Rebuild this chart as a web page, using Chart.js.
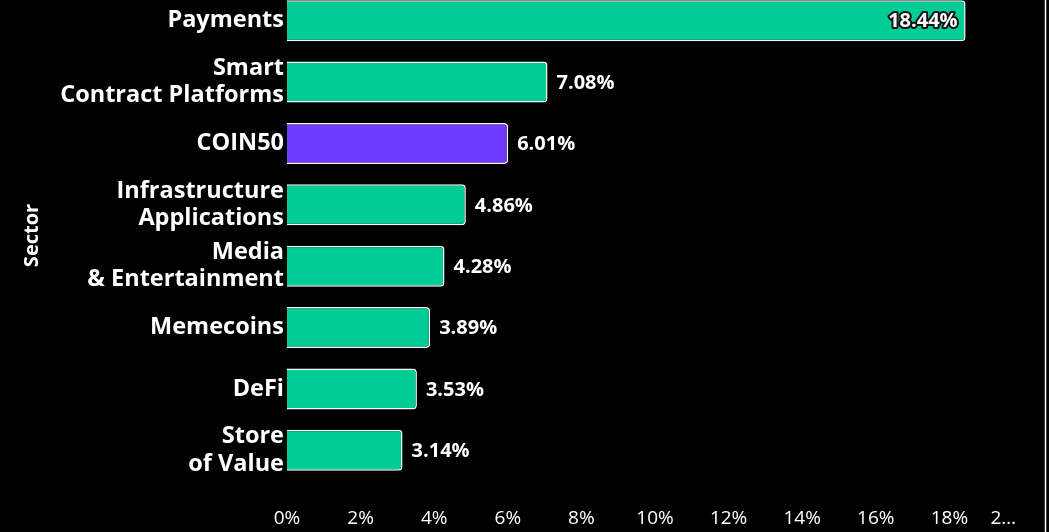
<!DOCTYPE html>
<html>
<head>
<meta charset="utf-8">
<script src="https://cdn.jsdelivr.net/npm/chart.js@4"></script>
<style>
  html, body { margin: 0; padding: 0; background: #000; overflow: hidden; }
  #wrap { position: absolute; left: 0; top: -10px; width: 1049px; height: 542px; }
</style>
</head>
<body>
<div id="wrap"><canvas id="grafico" width="1049" height="542"></canvas></div>
<script>
const sectores = [
  ["Payments"],
  ["Smart", "Contract Platforms"],
  ["COIN50"],
  ["Infrastructure", "Applications"],
  ["Media", "& Entertainment"],
  ["Memecoins"],
  ["DeFi"],
  ["Store", "of Value"]
];
const retornos = [18.44, 7.08, 6.01, 4.86, 4.28, 3.89, 3.53, 3.14];
const destacado = "COIN50";
const ejeMax = 20;
const ejePaso = 2;

const VERDE = "#00CC96";
const VIOLETA = "#6F3BFF";
const FUENTE = "'Open Sans', sans-serif";

const colores = sectores.map(s => s.join(" ") === destacado ? VIOLETA : VERDE);

// etiquetas de valor al final de cada barra
const etiquetas = {
  id: "etiquetas",
  afterDatasetsDraw(chart) {
    const ctx = chart.ctx;
    const meta = chart.getDatasetMeta(0);
    ctx.save();
    ctx.font = "bold 20px " + FUENTE;
    ctx.textBaseline = "middle";
    meta.data.forEach((bar, i) => {
      const txt = retornos[i].toFixed(2) + "%";
      const w = ctx.measureText(txt).width;
      if (bar.x + 9 + w > chart.chartArea.right) {
        ctx.textAlign = "right";
        ctx.lineJoin = "round";
        ctx.lineWidth = 4;
        ctx.strokeStyle = "#111";
        ctx.strokeText(txt, bar.x - 8, bar.y + 1);
        ctx.fillStyle = "#fff";
        ctx.fillText(txt, bar.x - 8, bar.y + 1);
      } else {
        ctx.textAlign = "left";
        ctx.fillStyle = "#fff";
        ctx.fillText(txt, bar.x + 9, bar.y + 1);
      }
    });
    ctx.restore();
  }
};

const borde = {
  id: "borde",
  afterDraw(chart) {
    const ctx = chart.ctx;
    ctx.save();
    ctx.strokeStyle = "#fff";
    ctx.lineWidth = 1.5;
    ctx.beginPath();
    ctx.moveTo(1045.5, 0);
    ctx.lineTo(1045.5, chart.height);
    ctx.stroke();
    ctx.restore();
  }
};

new Chart(document.getElementById("grafico"), {
  type: "bar",
  data: {
    labels: sectores,
    datasets: [{
      data: retornos,
      backgroundColor: colores,
      borderColor: "#fff",
      borderWidth: 1.5,
      borderSkipped: "start",
      borderRadius: 4,
      categoryPercentage: 1,
      barPercentage: 0.667
    }]
  },
  options: {
    indexAxis: "y",
    responsive: false,
    animation: false,
    layout: { padding: { left: 0, right: 26, top: 0, bottom: 0 } },
    plugins: {
      legend: { display: false },
      tooltip: { enabled: false }
    },
    scales: {
      x: {
        min: 0,
        max: ejeMax,
        grid: { display: false, drawTicks: false },
        border: { display: false },
        ticks: {
          stepSize: ejePaso,
          color: "#fff",
          padding: 26,
          maxRotation: 0,
          autoSkip: false,
          font: { family: FUENTE, size: 19 },
          callback: v => v === ejeMax ? "2…" + "        " : v + "%"
        },
        afterFit: s => { s.height = 51; s.paddingLeft = 0; s.paddingRight = 0; }
      },
      y: {
        grid: { display: false, drawTicks: false },
        border: { display: false },
        ticks: {
          color: "#fff",
          padding: 3,
          autoSkip: false,
          font: { family: FUENTE, size: 23.5, weight: "bold", lineHeight: 1.15 }
        },
        title: {
          display: true,
          text: "Sector",
          color: "#fff",
          padding: { top: 20, bottom: 0 },
          font: { family: FUENTE, size: 20, weight: "bold", lineHeight: 1.2 }
        },
        afterFit: s => { s.width = 287; s.paddingTop = 0; s.paddingBottom = 0; }
      }
    }
  },
  plugins: [etiquetas, borde]
});
</script>
</body>
</html>
